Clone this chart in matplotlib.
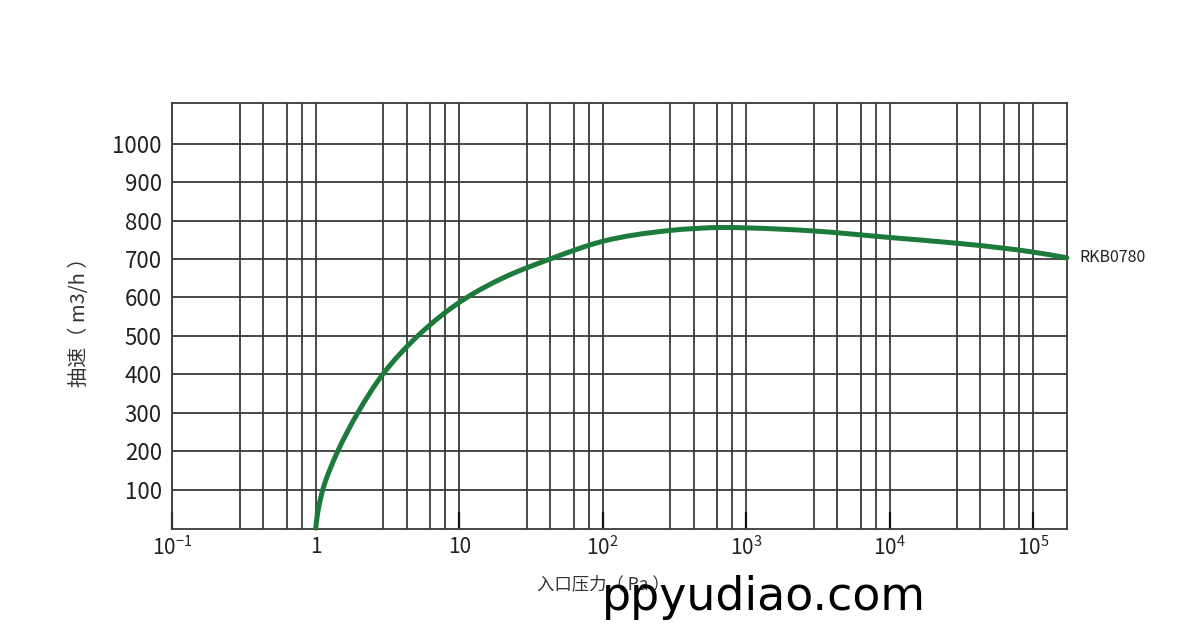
import matplotlib
matplotlib.use("Agg")
import numpy as np
import matplotlib.pyplot as plt
from matplotlib.path import Path
from matplotlib.patches import PathPatch
from matplotlib.ticker import FixedLocator, FixedFormatter, NullFormatter

plt.rcParams['font.family'] = ['Noto Sans CJK SC', 'DejaVu Sans']
plt.rcParams['mathtext.fontset'] = 'custom'
plt.rcParams['mathtext.rm'] = 'Noto Sans CJK SC'

# ---- data ----
series_name = "RKB0780"
pressure_pa = [1.0, 1.119, 1.423, 1.963, 2.93, 5.14, 11.3, 20.5, 43, 100, 290,
               700, 1000, 2950, 10000, 29500, 63000, 100000, 172000]
speed_m3h = [0, 100, 200, 300, 400, 500, 600, 652, 700, 746, 774,
             782, 781, 773, 756, 741, 728, 718, 703]

x_major = [0.1, 1, 10, 100, 1000, 1e4, 1e5]
x_major_labels = [r'$\mathregular{10^{-1}}$', '1', '10', r'$\mathregular{10^{2}}$',
                  r'$\mathregular{10^{3}}$', r'$\mathregular{10^{4}}$', r'$\mathregular{10^{5}}$']
y_ticks = [100, 200, 300, 400, 500, 600, 700, 800, 900, 1000]
x_label = "入口压力（ Pa ）"
y_label = "抽速（ m3/h ）"
watermark = "ppyudiao.com"

grid_fracs = [2.95, 4.3, 6.3, 8.0]

fig = plt.figure(figsize=(12, 6.42), dpi=100)
ax = fig.add_axes([0.1436, 0.1755, 0.8892 - 0.1436, 0.8391 - 0.1755])

ax.set_xscale('log')
ax.set_xlim(0.1, 10 ** 5.237)
ax.set_ylim(-3, 1105)

# smooth curve through the read points: chord-length Catmull-Rom (as cubic Bezier)
# computed in display coordinates, drawn through the axes transform
P = ax.transData.transform(np.column_stack([pressure_pa, speed_m3h]))
n = len(P)
dt = np.linalg.norm(np.diff(P, axis=0), axis=1)
T = np.zeros_like(P)
for i in range(1, n - 1):
    a, b = dt[i - 1], dt[i]
    T[i] = ((P[i + 1] - P[i]) / b * a + (P[i] - P[i - 1]) / a * b) / (a + b)
T[0] = 2 * (P[1] - P[0]) / dt[0] - T[1]
T[-1] = 2 * (P[-1] - P[-2]) / dt[-1] - T[-2]
verts = [P[0]]
codes = [Path.MOVETO]
for i in range(n - 1):
    verts += [P[i] + T[i] * dt[i] / 3, P[i + 1] - T[i + 1] * dt[i] / 3, P[i + 1]]
    codes += [Path.CURVE4] * 3
verts = ax.transData.inverted().transform(np.array(verts))
curve = PathPatch(Path(verts, codes), fill=False, edgecolor='#1c7a3a', lw=3.6,
                  capstyle='round', joinstyle='round', zorder=3, clip_on=False,
                  transform=ax.transData)
ax.add_patch(curve)

minor = [f * 10 ** k for k in range(-1, 6) for f in grid_fracs if f * 10 ** k < 10 ** 5.237]
ax.xaxis.set_major_locator(FixedLocator(x_major))
ax.xaxis.set_major_formatter(FixedFormatter(x_major_labels))
ax.xaxis.set_minor_locator(FixedLocator(minor))
ax.xaxis.set_minor_formatter(NullFormatter())
ax.set_yticks(y_ticks)

gridc = '#3a3a3a'
ax.grid(True, which='both', axis='x', color=gridc, lw=1.3, zorder=1)
ax.grid(True, which='major', axis='y', color=gridc, lw=1.3, zorder=1)
for s in ax.spines.values():
    s.set_color(gridc)
    s.set_linewidth(1.3)

ax.tick_params(axis='x', which='major', direction='in', length=12, width=1.6,
               color='#111111', pad=5, labelsize=15, labelcolor='#222222')
ax.tick_params(axis='x', which='minor', length=0)
ax.tick_params(axis='y', length=0, pad=7.5, labelsize=16, labelcolor='#222222')

ax.annotate(series_name, xy=(pressure_pa[-1], speed_m3h[-1]), xytext=(9, 0),
            textcoords='offset points', va='center', ha='left', fontsize=11.5,
            color='#222222', annotation_clip=False)

fig.text(80 / 1200, 1 - 317 / 642, y_label, rotation=90, ha='center', va='center',
         fontsize=14.5, color='#333333')
fig.text(603 / 1200, 1 - 584 / 642, x_label, ha='center', va='center',
         fontsize=12.5, color='#333333')
fig.text(764 / 1200, 1 - 610 / 642, watermark, ha='center', va='baseline',
         fontsize=33, color='black', family='DejaVu Sans')

fig.savefig('out.png', dpi=100)
